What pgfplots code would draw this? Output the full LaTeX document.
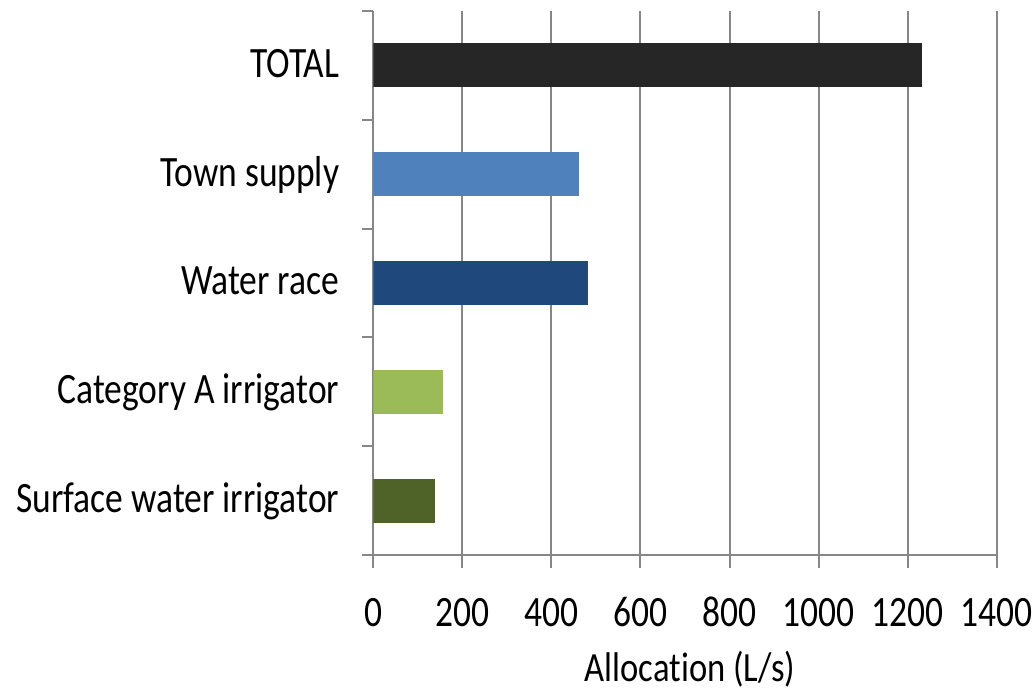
\documentclass[border=0pt]{standalone}
\usepackage{pgfplots}
\pgfplotsset{compat=1.18}
\usepackage{fontspec}
\setmainfont{Carlito}[Ligatures=NoCommon]
\definecolor{cTotal}{HTML}{262626}
\definecolor{cTown}{HTML}{4F81BD}
\definecolor{cRace}{HTML}{1F497D}
\definecolor{cCatA}{HTML}{9BBB59}
\definecolor{cSurf}{HTML}{4F6228}
\definecolor{gridgray}{HTML}{878787}
\newcommand{\st}[1]{\scalebox{1}[1.22]{#1}}
\begin{document}
\begin{tikzpicture}
\begin{axis}[
  at={(0,0)}, anchor=south west,
  scale only axis, width=311.7pt, height=272pt,
  xmin=0, xmax=1400, ymin=-0.5, ymax=4.5,
  xtick={0,200,...,1400},
  ytick={0,1,2,3,4},
  yticklabels={\st{Surface water irrigator}, \st{Category A irrigator}, \st{Water race}, \st{Town supply}, \st{TOTAL}},
  xticklabel={\st{\pgfmathprintnumber{\tick}}},
  minor ytick={-0.5,0.5,1.5,2.5,3.5,4.5},
  axis lines*=left,
  axis line style={draw=gridgray, line width=1.2pt, -},
  tick align=outside,
  major tick length=6.5pt,
  minor tick length=5.5pt,
  ytick style={draw=none},
  xtick style={draw=gridgray, line width=1pt},
  minor y tick style={draw=gridgray, line width=1pt},
  xmajorgrids,
  grid style={draw=gridgray, line width=1pt},
  /pgf/number format/assume math mode=true,
  /pgf/number format/1000 sep={},
  xticklabel style={font=\fontsize{17.75}{21}\selectfont, anchor=base, yshift=-29.25pt},
  yticklabel style={font=\fontsize{17.75}{21}\selectfont, anchor=base east, xshift=-7pt, yshift=-6pt},
  xlabel={\scalebox{1}[1.2]{Allocation (L/s)}},
  xlabel style={font=\fontsize{17.3}{21}\selectfont, at={(axis description cs:0.508,0)}, anchor=base, yshift=-63pt},
  xbar, bar width=22pt, bar shift=0pt,
]
\addplot[fill=cSurf, draw=none] coordinates {(139,0)};
\addplot[fill=cCatA, draw=none] coordinates {(156,1)};
\addplot[fill=cRace, draw=none] coordinates {(482,2)};
\addplot[fill=cTown, draw=none] coordinates {(462,3)};
\addplot[fill=cTotal, draw=none] coordinates {(1232,4)};
\end{axis}
\pgfresetboundingbox
\useasboundingbox (-186.65pt,-69.5pt) rectangle (331.35pt,277.5pt);
\end{tikzpicture}
\end{document}
